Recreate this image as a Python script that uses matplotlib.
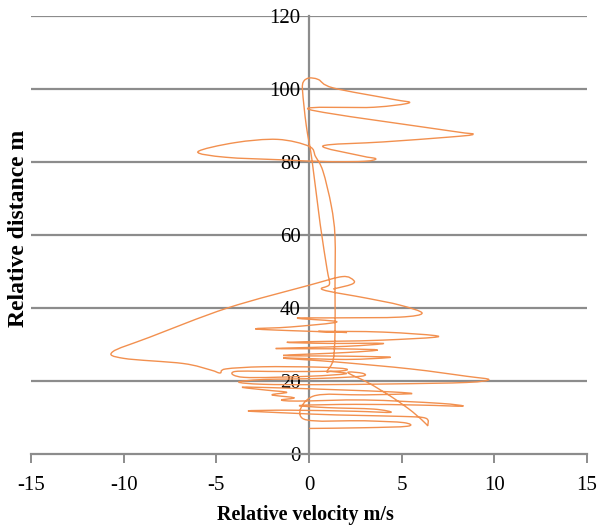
import numpy as np
import matplotlib
matplotlib.use("Agg")
import matplotlib.pyplot as plt
from matplotlib.path import Path
from matplotlib.patches import PathPatch

# relative velocity (m/s) and relative distance (m), in recorded order
velocity = [
    1.3, 2.3, 2.4, 1.8, 0.05, -4.4, -8.6, -10.6, -10.0, -6.8, -5.3, -4.8,
    -4.5, -2.5, 0.5, 2.0, 1.5, -1.5, -4.0, -3.5, 0.0, 2.0, 1.2, 0.97,
    1.3, 1.4, 1.4, 1.4, 1.2, 0.75, 0.35, 0.0, -1.7, -4.0, -6.0, -4.5,
    -1.5, 1.0, 3.0, 3.6, 2.8, 0.75, 4.0, 7.5, 8.85, 7.5, 0.0, 3.5,
    5.4, 4.5, 1.3, 0.5, 0.0, -0.3, -0.35, -0.15, 0.16, 0.6, 0.97, 1.1,
    0.75, 3.1, 4.9, 6.1, 4.9, 1.5, -0.65, 1.5, -1.0, -2.9, -1.0, 2.05,
    0.5, 4.0, 7.0, 4.0, 1.5, -1.2, 1.0, 4.0, 2.0, -1.8, 1.7, 3.7,
    2.0, -1.4, 2.0, 4.4, 2.0, -1.4, 1.5, 5.5, 8.5, 9.7, 8.5, 4.5,
    0.5, -2.5, -3.8, -2.5, 0.5, 2.8, 2.9, 2.1, 3.2, 4.5, 5.6, 6.3,
    6.4, 6.3, 5.0, 1.5, -1.0, -3.3, -1.0, 2.5, 4.4, 3.5, 1.0, -0.5,
    2.5, 6.0, 8.3, 7.0, 3.0, -0.6, -1.5, -0.8, -2.0, -1.2, -2.3, -3.6,
    -1.5, 1.5, 4.5, 5.5, 3.0, 0.2, -0.3, 3.0, 5.1, 5.3, 3.0, 0.0,
]
distance = [
    45.2, 46.5, 47.6, 48.6, 46.3, 40.0, 32.0, 28.0, 26.2, 24.8, 23.0, 22.2,
    23.3, 23.9, 23.8, 23.3, 22.7, 22.6, 22.6, 21.0, 21.3, 22.0, 22.6, 22.6,
    25.7, 33.0, 45.0, 59.5, 68.0, 77.5, 81.5, 84.3, 86.2, 85.3, 82.8, 81.3,
    80.6, 80.1, 80.2, 80.9, 81.7, 84.4, 85.5, 86.8, 87.6, 88.6, 94.4, 95.0,
    96.2, 97.2, 100.3, 102.6, 103.0, 102.0, 99.5, 90.0, 80.5, 63.0, 50.7, 46.5,
    45.0, 42.7, 40.8, 38.6, 37.5, 37.3, 37.2, 36.2, 34.8, 34.3, 33.8, 33.3,
    33.6, 33.4, 32.2, 31.2, 30.9, 30.6, 30.3, 30.3, 29.5, 28.9, 28.8, 28.5,
    27.8, 27.0, 26.8, 26.5, 25.9, 26.3, 25.2, 23.3, 21.3, 20.4, 19.6, 19.2,
    19.0, 19.1, 19.7, 20.4, 20.7, 21.3, 22.1, 22.3, 19.5, 15.5, 11.5, 8.3,
    7.8, 9.8, 10.3, 10.7, 11.2, 11.8, 12.0, 11.7, 11.4, 12.3, 12.7, 13.3,
    13.6, 13.4, 13.1, 13.9, 14.8, 14.5, 14.8, 15.4, 16.2, 16.9, 17.5, 18.3,
    18.1, 17.6, 17.0, 16.5, 16.2, 15.8, 9.6, 9.1, 8.6, 7.6, 7.2, 7.0,
]

x_ticks = [-15, -10, -5, 0, 5, 10, 15]
y_ticks = [0, 20, 40, 60, 80, 100, 120]


def smooth_path(xs, ys, tension=1 / 6):
    """Cubic Bezier path through the points (Catmull-Rom style smoothing)."""
    pts = np.column_stack([xs, ys])
    n = len(pts)
    verts = [pts[0]]
    codes = [Path.MOVETO]
    for i in range(n - 1):
        p0 = pts[max(i - 1, 0)]
        p1 = pts[i]
        p2 = pts[i + 1]
        p3 = pts[min(i + 2, n - 1)]
        c1 = p1 + (p2 - p0) * tension
        c2 = p2 - (p3 - p1) * tension
        verts += [c1, c2, p2]
        codes += [Path.CURVE4] * 3
    return Path(verts, codes)


plt.rcParams['font.family'] = 'Liberation Serif'

fig = plt.figure(figsize=(5.98, 5.30), dpi=100)
ax = fig.add_axes([0.052, 0.1434, 0.9296, 0.8264])

ax.set_xlim(-15, 15)
ax.set_ylim(0, 120)

for y in y_ticks[1:]:
    ax.axhline(y, color='#8c8c8c', linewidth=1.6, zorder=1)

ax.add_patch(PathPatch(smooth_path(velocity, distance), facecolor='none',
                       edgecolor='#f2904f', linewidth=1.0, zorder=3))

ax.spines['left'].set_position(('data', 0))
ax.spines['right'].set_visible(False)
ax.spines['top'].set_visible(False)
for side in ('left', 'bottom'):
    ax.spines[side].set_color('#8c8c8c')
    ax.spines[side].set_linewidth(1.6)
ax.spines['left'].set_zorder(2)

ax.set_xticks(x_ticks)
ax.set_yticks(y_ticks)
ax.set_xticklabels([str(v) for v in x_ticks], fontsize=15)
ax.set_yticklabels([str(v) for v in y_ticks], fontsize=15)
ax.tick_params(axis='x', direction='out', length=6.5, width=1.4,
               color='#8c8c8c', pad=9)
ax.tick_params(axis='y', length=0, pad=6)

fig.text(0.51, 0.028, 'Relative velocity m/s', ha='center', va='center',
         fontsize=14.5, fontweight='bold')
fig.text(0.031, 0.57, 'Relative distance m', ha='center', va='center',
         rotation=90, fontsize=17, fontweight='bold')

fig.savefig('out.png', dpi=100)
